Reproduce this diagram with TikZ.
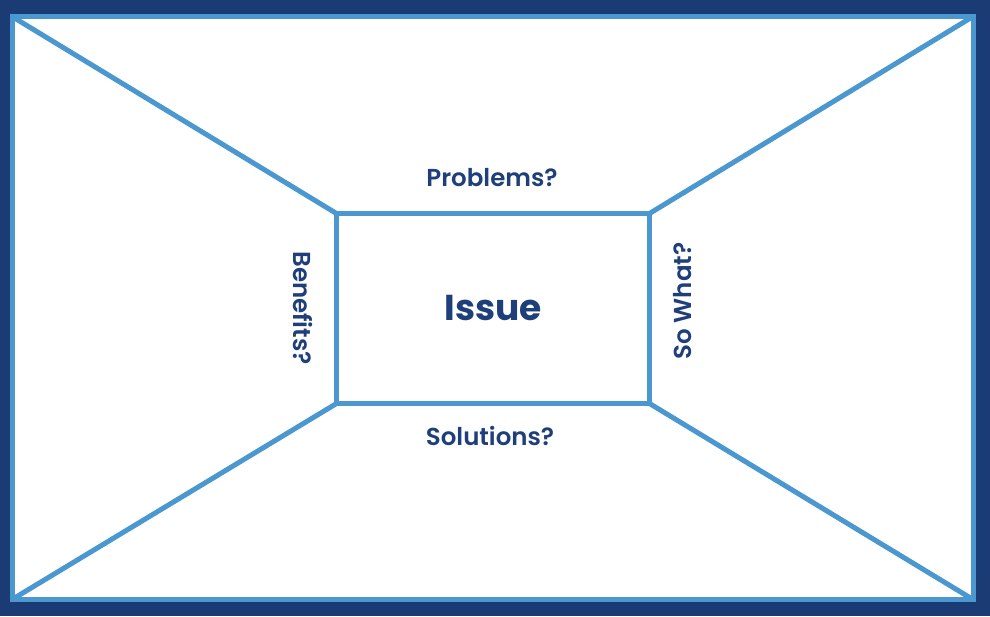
\documentclass[tikz,border=0pt]{standalone}
\usepackage{fontspec}
\setmainfont{Poppins}
\newfontfamily\labelfont{Poppins SemiBold}
\usepackage{tikz}
\definecolor{navy}{HTML}{1A3B73}
\definecolor{skyline}{HTML}{4A98CF}
\definecolor{labeltext}{HTML}{1E3F7A}
\tikzstyle{frame}=[line width=5pt,draw=skyline]
\tikzstyle{label}=[text=labeltext,font=\labelfont\fontsize{24.5}{28}\selectfont,inner sep=0pt]

\begin{document}
\begin{tikzpicture}[x=1pt,y=-1pt]
	\fill[navy] (0,0) rectangle (990,616);
	\coordinate (TL) at (12,16.5);
	\coordinate (TR) at (973,16.5);
	\coordinate (BR) at (973,599.5);
	\coordinate (BL) at (12,599.5);
	\fill[white] (TL) rectangle (BR);
	\draw[frame] (TL) rectangle (BR);
	\node[frame,outer sep=0pt,minimum width=313pt,minimum height=190pt,text=labeltext,font=\fontsize{36}{40}\selectfont\bfseries] (issue) at (493,308.5) {Issue};
	\draw[frame] (TL) -- (issue.north west);
	\draw[frame] (TR) -- (issue.north east);
	\draw[frame] (BR) -- (issue.south east);
	\draw[frame] (BL) -- (issue.south west);
	\node[label] (problems) at (492,178) {Problems?};
	\node[label] (solutions) at (490,436) {Solutions?};
	\node[label,rotate=-90] (benefits) at (303,308) {Benefits?};
	\node[label,rotate=90] (sowhat) at (683,301) {So What?};
\end{tikzpicture}
\end{document}
